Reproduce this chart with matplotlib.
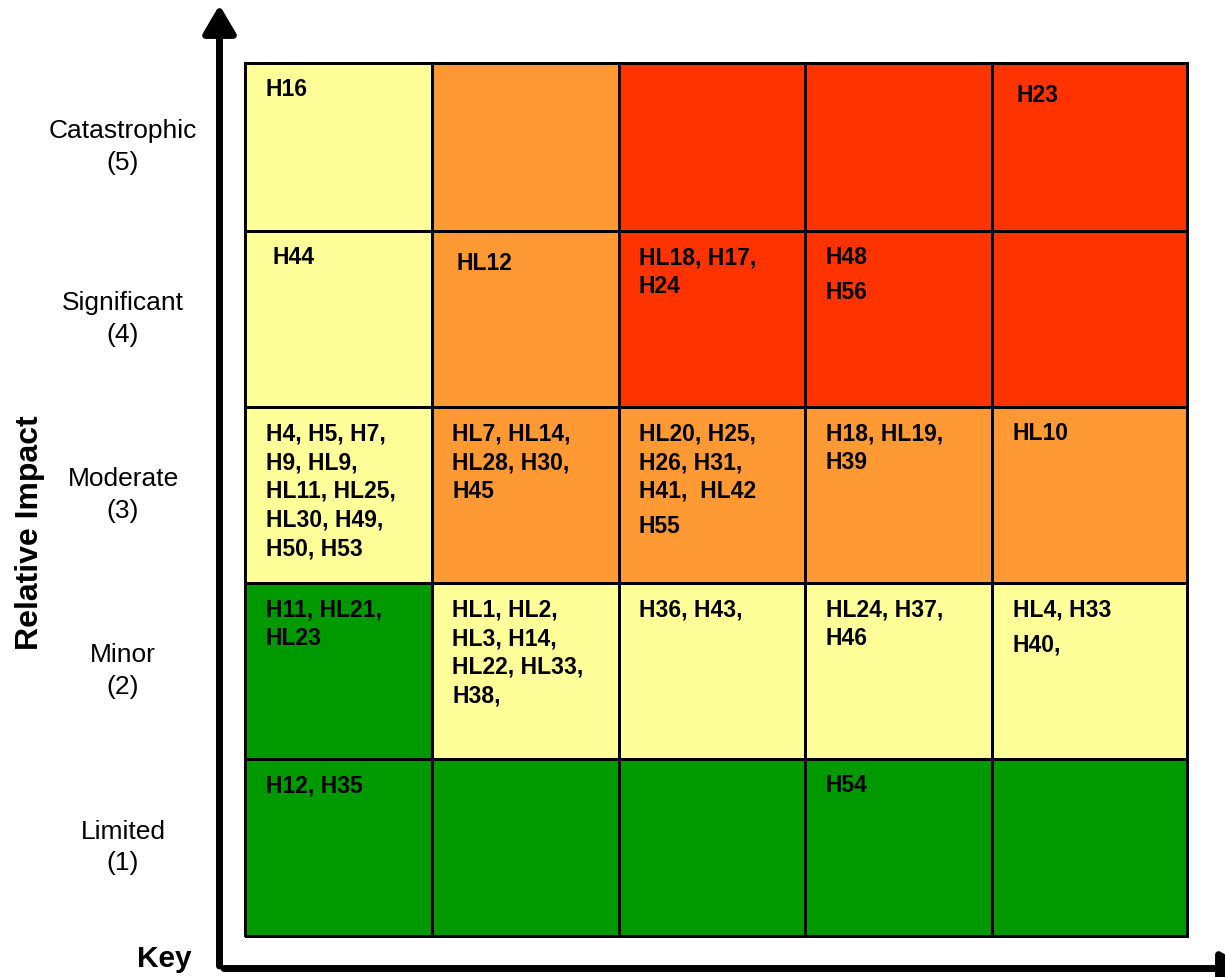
import numpy as np
import matplotlib
matplotlib.use('Agg')
import matplotlib.pyplot as plt
from matplotlib.colors import ListedColormap

plt.rcParams['font.family'] = ['Liberation Sans', 'DejaVu Sans']

# 影响等级（从上到下）
impact_levels = ['Catastrophic\n(5)', 'Significant\n(4)', 'Moderate\n(3)',
                 'Minor\n(2)', 'Limited\n(1)']

# 风险等级：0=绿 1=黄 2=橙 3=红（行从上到下）
risk_rank = [
    [1, 2, 3, 3, 3],
    [1, 2, 3, 3, 3],
    [1, 2, 2, 2, 2],
    [0, 1, 1, 1, 1],
    [0, 0, 0, 0, 0],
]
risk_colors = ['#009900', '#FFFF99', '#FF9933', '#FF3300']

# 每个格子里的危险编号
hazards = [
    ['H16', '', '', '', 'H23'],
    ['H44', 'HL12', 'HL18, H17,\nH24', 'H48\nH56', ''],
    ['H4, H5, H7,\nH9, HL9,\nHL11, HL25,\nHL30, H49,\nH50, H53',
     'HL7, HL14,\nHL28, H30,\nH45',
     'HL20, H25,\nH26, H31,\nH41,  HL42\nH55',
     'H18, HL19,\nH39', 'HL10'],
    ['H11, HL21,\nHL23', 'HL1, HL2,\nHL3, H14,\nHL22, HL33,\nH38,',
     'H36, H43,', 'HL24, H37,\nH46', 'HL4, H33\nH40,'],
    ['H12, H35', '', '', 'H54', ''],
]

# 版式（像素）：格子边界
col_px = [245, 432, 618.5, 805, 992, 1187]
row_px = [63, 231, 407, 583, 759, 936]
W, H = 1225, 977
dx0, dy0, line_h, gap = 20.5, 27, 28.7, 6
nudge = {(0, 4): (3.5, 5), (1, 0): (6.5, 0), (1, 1): (4.5, 5)}
wide_gap = {(1, 3): 1, (2, 2): 3, (3, 4): 1}

fig = plt.figure(figsize=(W / 100, H / 100), dpi=100)
aw, ah = col_px[-1] - col_px[0], row_px[-1] - row_px[0]
ax = fig.add_axes([col_px[0] / W, (H - row_px[-1]) / H, aw / W, ah / H])
ax.set_xlim(0, 1)
ax.set_ylim(0, 1)

xe = (np.array(col_px) - col_px[0]) / aw
ye = (row_px[-1] - np.array(row_px[::-1])) / ah

cmap = ListedColormap(risk_colors)
mesh = ax.pcolormesh(xe, ye, np.flipud(np.array(risk_rank)), cmap=cmap,
                     vmin=-0.5, vmax=3.5, edgecolors='black', linewidth=2)
mesh.set_clip_on(False)
ax.set_xticks([])
ax.set_yticks([])
for s in ax.spines.values():
    s.set_visible(False)

nrow = len(risk_rank)
ytop = ye[::-1]  # 每行上边界（从上到下）

# 格子文字
for i, row in enumerate(hazards):
    for j, txt in enumerate(row):
        if not txt:
            continue
        ddx, ddy = nudge.get((i, j), (0, 0))
        g = wide_gap.get((i, j), 99)
        for k, line in enumerate(txt.split('\n')):
            off = dy0 + ddy + k * line_h + (gap if k >= g else 0)
            ax.text(xe[j] + (dx0 + ddx) / aw, ytop[i] - off / ah, line,
                    ha='left', va='center', fontsize=16.5, fontweight='bold')

# 纵轴标签
for i, lab in enumerate(impact_levels):
    yc = (ytop[i] + ytop[i + 1]) / 2 if i + 1 < nrow else ytop[i] / 2
    ax.text(-122 / aw, yc, lab, ha='center', va='center', fontsize=19,
            linespacing=1.38)

ax.text(-215 / aw, (row_px[-1] - 533) / ah, 'Relative Impact', rotation=90,
        ha='center', va='center', fontsize=23, fontweight='bold')
ax.text(-108 / aw, -31 / ah, 'Key', ha='left', va='baseline',
        fontsize=21.5, fontweight='bold')

# 坐标箭头
arrow = dict(arrowstyle='-|>,head_length=0.85,head_width=0.5', lw=5,
             color='black', shrinkA=0, shrinkB=0, mutation_scale=20)
ax.annotate('', xy=(-25.5 / aw, 1 + 58 / ah), xytext=(-25.5 / aw, -30 / ah),
            xycoords='axes fraction', arrowprops=arrow, annotation_clip=False)
ax.annotate('', xy=(1 + 62 / aw, -32.5 / ah), xytext=(-21 / aw, -32.5 / ah),
            xycoords='axes fraction', arrowprops=arrow, annotation_clip=False)

plt.savefig('out.png', dpi=100)
